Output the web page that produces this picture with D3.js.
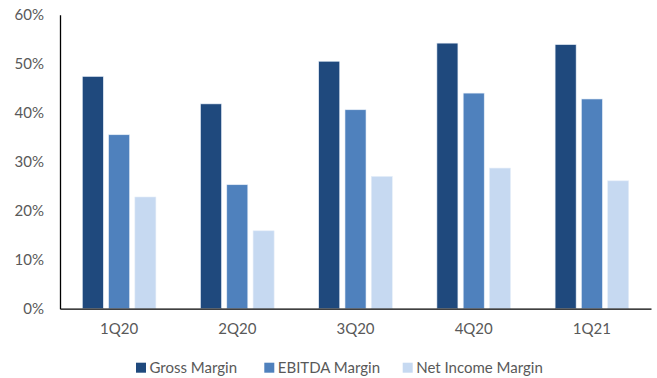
<!DOCTYPE html>
<html>
<head>
<meta charset="utf-8">
<script src="https://cdn.jsdelivr.net/npm/d3@7"></script>
<style>
  html, body { margin: 0; padding: 0; background: #fff; }
  svg { display: block; }
  text { font-family: Lato, "Open Sans", sans-serif; fill: #595959; }
</style>
</head>
<body>
<svg id="chart" width="657" height="378"></svg>
<script>
const quarters = ["1Q20", "2Q20", "3Q20", "4Q20", "1Q21"];
const seriesNames = ["Gross Margin", "EBITDA Margin", "Net Income Margin"];
const grossMargin = [47.4, 41.8, 50.5, 54.2, 53.9];
const ebitdaMargin = [35.5, 25.3, 40.6, 44.0, 42.8];
const netIncomeMargin = [22.8, 15.9, 27.0, 28.7, 26.1];
const yTicks = [0, 10, 20, 30, 40, 50, 60];
const colors = ["#1F497D", "#4F81BD", "#C6D9F1"];

const series = [grossMargin, ebitdaMargin, netIncomeMargin];

const svg = d3.select("#chart");
const plotLeft = 60, plotRight = 651, plotTop = 14.7, plotBottom = 308.7;
const fontSize = "15px";

const x = d3.scaleBand().domain(quarters).range([plotLeft, plotRight]).padding(0);
const x1 = d3.scaleBand().domain(seriesNames).range([-36.8, 36.8]).paddingInner(0.2);
const y = d3.scaleLinear().domain([0, 60]).range([plotBottom, plotTop]);

// Bars
const groups = svg.append("g").selectAll("g")
  .data(quarters)
  .join("g")
  .attr("transform", d => `translate(${x(d) + x.bandwidth() / 2},0)`);

groups.selectAll("rect")
  .data((q, i) => seriesNames.map((s, j) => ({ s, v: series[j][i], c: colors[j] })))
  .join("rect")
  .attr("x", d => x1(d.s))
  .attr("width", x1.bandwidth())
  .attr("y", d => y(d.v))
  .attr("height", d => plotBottom - y(d.v))
  .attr("fill", d => d.c)
  .attr("stroke", "#e6eef8")
  .attr("stroke-width", 0.6);

// Y axis
const yAxis = d3.axisLeft(y).tickValues(yTicks).tickFormat(d => d + "%").tickSize(0).tickPadding(16);
const gy = svg.append("g").attr("transform", `translate(${plotLeft},0)`).call(yAxis);
gy.select(".domain").attr("stroke", "#000").attr("stroke-width", 1.3);
gy.selectAll("text").style("font-size", fontSize).attr("fill", "#595959");

// X axis
const xAxis = d3.axisBottom(x).tickSize(0).tickPadding(15);
const gx = svg.append("g").attr("transform", `translate(0,${plotBottom})`).call(xAxis);
gx.select(".domain").attr("stroke", "#000").attr("stroke-width", 1.3);
gx.selectAll("text").style("font-size", fontSize).attr("fill", "#595959");

// Legend
const legendX = [136, 264.3, 402.7];
const legend = svg.append("g").selectAll("g")
  .data(seriesNames)
  .join("g")
  .attr("transform", (d, i) => `translate(${legendX[i]},362.7)`);
legend.append("rect").attr("width", 10).attr("height", 10).attr("fill", (d, i) => colors[i]);
legend.append("text").attr("x", 13.5).attr("y", 10).style("font-size", fontSize).text(d => d);
</script>
</body>
</html>
